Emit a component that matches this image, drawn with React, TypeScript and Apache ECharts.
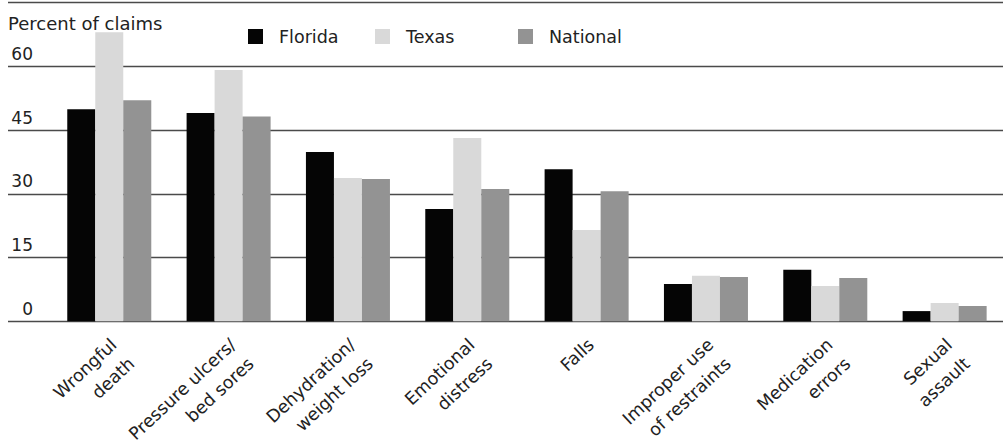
import React, { useEffect, useRef } from "react";
import * as echarts from "echarts";

const categories = [
  "Wrongful\ndeath",
  "Pressure ulcers/\nbed sores",
  "Dehydration/\nweight loss",
  "Emotional\ndistress",
  "Falls",
  "Improper use\nof restraints",
  "Medication\nerrors",
  "Sexual\nassault",
];
const florida = [49.9, 49.0, 39.8, 26.4, 35.8, 8.8, 12.1, 2.4];
const texas = [68.0, 59.1, 33.7, 43.1, 21.5, 10.7, 8.3, 4.3];
const national = [52.0, 48.2, 33.5, 31.1, 30.6, 10.4, 10.2, 3.6];
const seriesNames = ["Florida", "Texas", "National"];
const colors = ["#050505", "#d9d9d9", "#939393"];
const yMin = 0;
const yMax = 75;
const yInterval = 15;

const FONT = "DejaVu Sans";
const TEXT = "#222";

export default function App() {
  const ref = useRef<HTMLDivElement>(null);
  useEffect(() => {
    if (!ref.current) return;
    const chart = echarts.init(ref.current, undefined, { renderer: "svg" });
    const legendLefts = [248, 375, 518];
    chart.setOption({
      animation: false,
      backgroundColor: "#fff",
      title: {
        text: "Percent of claims",
        left: 8,
        top: 14,
        padding: 0,
        textStyle: { fontFamily: FONT, fontSize: 18, fontWeight: "normal", color: TEXT },
      },
      legend: seriesNames.map((n, i) => ({
        data: [n],
        left: legendLefts[i],
        top: 27.5,
        padding: 0,
        itemWidth: 15,
        itemHeight: 15,
        icon: "rect",
        selectedMode: false,
        textStyle: { fontFamily: FONT, fontSize: 17.5, color: TEXT, padding: [0, 0, 0, 11] },
      })),
      grid: [
        { left: 8, right: 0, top: 2.5, bottom: 123.7, outerBoundsMode: "none", containLabel: false },
        { left: 49.6, width: 954.7, top: 2.5, bottom: 123.7, outerBoundsMode: "none", containLabel: false },
      ],
      xAxis: [
        { gridIndex: 0, type: "category", data: [""], show: false },
        {
          gridIndex: 1,
          type: "category",
          data: categories,
          axisLine: { show: false },
          axisTick: { show: false },
          axisLabel: {
            interval: 0,
            rotate: 43,
            align: "right",
            verticalAlign: "top",
            margin: 7,
            lineHeight: 26,
            padding: [0, 6, 0, 0],
            fontFamily: FONT,
            fontSize: 17.5,
            color: TEXT,
          },
        },
      ],
      yAxis: [
        {
          gridIndex: 0,
          type: "value",
          min: yMin,
          max: yMax,
          interval: yInterval,
          axisLine: { show: false },
          axisTick: { show: false },
          splitLine: { show: true, lineStyle: { color: "#4a4a4a", width: 1.3 } },
          axisLabel: {
            showMaxLabel: false,
            margin: -25,
            align: "right",
            verticalAlign: "bottom",
            lineHeight: 17,
            padding: [0, 0, 4, 0],
            fontFamily: FONT,
            fontSize: 17,
            color: TEXT,
          },
        },
        { gridIndex: 1, type: "value", min: yMin, max: yMax, interval: yInterval, show: false },
      ],
      series: [florida, texas, national].map((d, i) => ({
        name: seriesNames[i],
        type: "bar",
        xAxisIndex: 1,
        yAxisIndex: 1,
        data: d,
        barGap: "0%",
        barCategoryGap: "29.6%",
        itemStyle: { color: colors[i] },
      })),
    });
    return () => chart.dispose();
  }, []);
  return (
    <div
      ref={ref}
      style={{ position: "fixed", left: 0, top: 0, width: 1003, height: 445 }}
    />
  );
}
